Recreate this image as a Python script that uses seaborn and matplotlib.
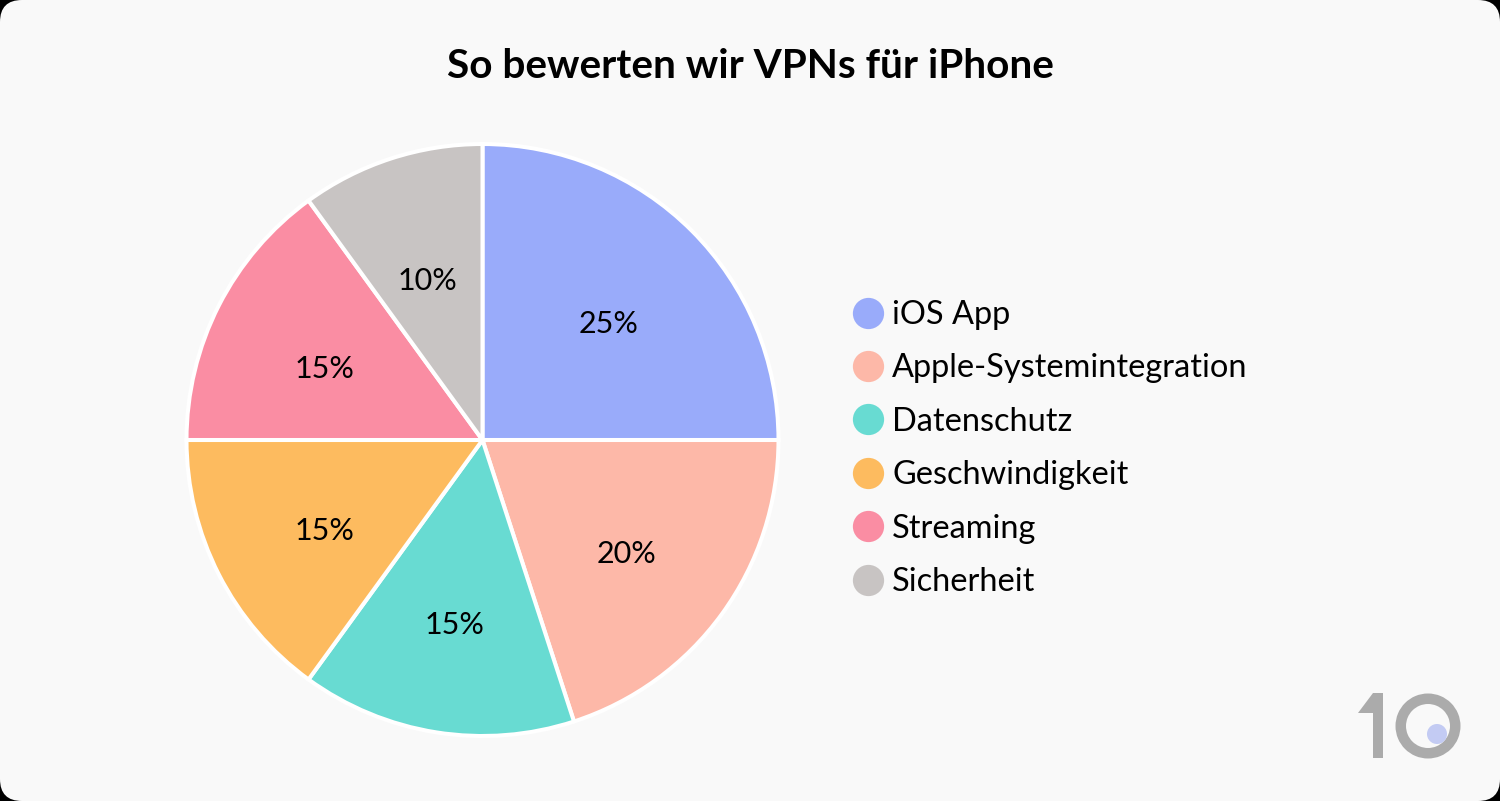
import matplotlib
matplotlib.use("Agg")
import matplotlib.pyplot as plt
from matplotlib.lines import Line2D
from matplotlib.patches import Circle, FancyBboxPatch, Polygon, Wedge
import seaborn as sns

categories = ["iOS App", "Apple-Systemintegration", "Datenschutz",
              "Geschwindigkeit", "Streaming", "Sicherheit"]
values = [25, 20, 15, 15, 15, 10]
colors = ["#99ABFA", "#FDB8A8", "#68DBD2", "#FDBB5F", "#FA8DA3", "#C8C4C3"]
title = "So bewerten wir VPNs für iPhone"

sns.set_theme(style="white")
plt.rcParams["font.family"] = ["Lato", "DejaVu Sans"]

W, H = 1500, 801
fig = plt.figure(figsize=(W / 100, H / 100), dpi=100, facecolor="black")

# Card background and logo, in pixel coordinates
bg = fig.add_axes([0, 0, 1, 1])
bg.set_xlim(0, W)
bg.set_ylim(H, 0)
bg.axis("off")
bg.add_patch(FancyBboxPatch((22, 22), W - 44, H - 44,
                            boxstyle="round,pad=22,rounding_size=22",
                            fc="#F9F9F9", ec="none"))
logo_grey = "#ABABAB"
bg.add_patch(Polygon([(1358, 713), (1373, 693), (1383, 693), (1383, 758),
                      (1373, 758), (1373, 713)], fc=logo_grey, ec="none"))
bg.add_patch(Wedge((1428, 726), 32.5, 0, 360, width=10.5, fc=logo_grey, ec="none"))
bg.add_patch(Circle((1437, 734), 10, fc="#C3CBF3", ec="none"))

bg.text(750, 67, title, ha="center", va="center", fontsize=29.2,
        fontweight="bold", color="black")

# Pie
R = 296
cx, cy = 482.5, 440
ax = fig.add_axes([(cx - R) / W, (H - cy - R) / H, 2 * R / W, 2 * R / H])
ax.patch.set_alpha(0)
wedges, _, autotexts = ax.pie(
    values, colors=colors, startangle=90, counterclock=False,
    autopct="%d%%", pctdistance=0.6, radius=1,
    wedgeprops=dict(edgecolor="white", linewidth=2.9, clip_on=False),
    textprops=dict(fontsize=22, color="black"),
)
for t in autotexts:
    x, y = t.get_position()
    t.set_position((x, y - 10 / R))
ax.set_xlim(-1, 1)
ax.set_ylim(-1, 1)

handles = [Line2D([], [], linestyle="none", marker="o", markersize=22.5,
                  markerfacecolor=c, markeredgecolor="none") for c in colors]
fig.legend(handles, categories, loc="center left",
           bbox_to_anchor=(852 / W, (H - 448.5) / H), frameon=False,
           fontsize=23.4, labelspacing=0.72, handletextpad=0.24,
           handlelength=1.0, borderpad=0, borderaxespad=0, labelcolor="black")

fig.savefig("out.png", dpi=100, facecolor=fig.get_facecolor())
